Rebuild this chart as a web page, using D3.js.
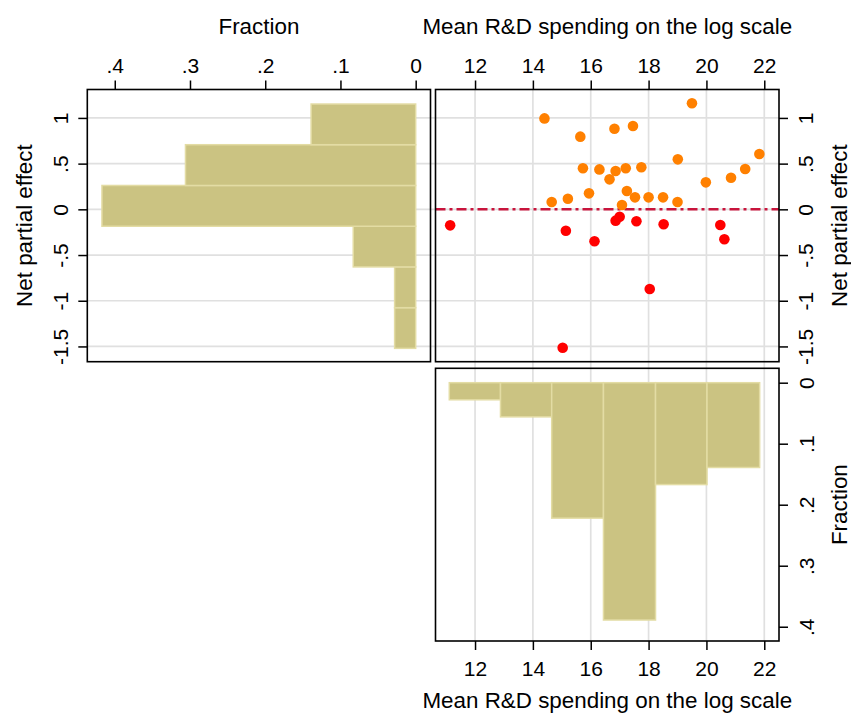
<!DOCTYPE html>
<html>
<head>
<meta charset="utf-8">
<script src="https://cdn.jsdelivr.net/npm/d3@7"></script>
<style>
    body { margin: 0; background: #fff; }
    svg { display: block; font-family: "Liberation Sans", Arial, Helvetica, sans-serif; }
</style>
</head>
<body>
<div id="chart"></div>
<script>
// DATA

// Mean R&D spending (log scale) for each observation
var rdSpending = [11.14, 15.14, 16.13, 16.86, 17.00, 17.58, 18.52, 20.48, 20.62, 18.04, 15.03,
    14.40, 19.50, 15.64, 16.82, 17.46, 15.73, 16.30, 16.65, 16.86, 17.21, 17.75, 19.01,
    21.83, 21.34, 20.85, 19.98, 15.94, 17.25, 17.53, 18.00, 18.50, 19.00, 14.65, 15.21, 17.08];
// Net partial effect for each observation
var netEffect = [-0.175, -0.234, -0.350, -0.124, -0.081, -0.131, -0.164, -0.172, -0.328, -0.872, -1.514,
    0.995, 1.160, 0.795, 0.882, 0.911, 0.449, 0.437, 0.328, 0.419, 0.449, 0.460, 0.547,
    0.605, 0.441, 0.346, 0.295, 0.175, 0.200, 0.131, 0.131, 0.131, 0.080, 0.080, 0.116, 0.047];

// Histogram of net partial effect (bin edges, fractions)
var effectBinEdges = [-1.521, -1.076, -0.630, -0.185, 0.261, 0.707, 1.152];
var effectFractions = [0.028, 0.028, 0.083, 0.417, 0.306, 0.139];

// Histogram of R&D spending (bin edges, fractions)
var rdBinEdges = [11.11, 12.88, 14.65, 16.44, 18.24, 20.02, 21.84];
var rdFractions = [0.028, 0.056, 0.222, 0.389, 0.167, 0.139];

// Tick values
var rdTicks = [12, 14, 16, 18, 20, 22];
var effectTicks = [-1.5, -1, -0.5, 0, 0.5, 1];
var fractionTicks = [0, 0.1, 0.2, 0.3, 0.4];

var xTitle = "Mean R&D spending on the log scale";
var yTitle = "Net partial effect";
var fracTitle = "Fraction";


// SETTINGS

var WIDTH = 851, HEIGHT = 713;
var FONT = '"Liberation Sans", Arial, Helvetica, sans-serif';
var BAR_FILL = "#cbc382";
var BAR_STROKE = "#e3dca4";
var GRID = "#e0e0e0";
var TICK_FONT = 21;
var TITLE_FONT = 22.4;

// Panel boxes [left, top, right, bottom]
var leftBox = [87.3, 89.5, 430.5, 361.7];
var mainBox = [435.5, 89.5, 779, 361.7];
var bottomBox = [435.5, 368.3, 779, 641];

var svg = d3.select("#chart").append("svg")
    .attr("width", WIDTH)
    .attr("height", HEIGHT);

svg.append("rect").attr("width", WIDTH).attr("height", HEIGHT).attr("fill", "#fff");

// Scales
var x = d3.scaleLinear().domain([10.633, 22.509]).range([mainBox[0], mainBox[2]]);
var y = d3.scaleLinear().domain([-1.667, 1.311]).range([mainBox[3], mainBox[1]]);
var fx = d3.scaleLinear().domain([0.4365, -0.0197]).range([leftBox[0], leftBox[2]]);
var fy = d3.scaleLinear().domain([-0.0236, 0.4234]).range([bottomBox[1], bottomBox[3]]);

// Stata-like number format: drop the leading zero, plain hyphen for minus
function fmt(d) {
    var s = String(+d.toFixed(2));
    return s.replace(/^0\./, ".").replace(/^-0\./, "-.");
}

// Rotate the tick labels of a vertical axis
function rotateLabels(g, offset) {
    g.selectAll(".tick text")
        .attr("x", 0).attr("y", 0)
        .attr("dy", "0.35em")
        .attr("text-anchor", "middle")
        .attr("transform", "translate(" + offset + ",0) rotate(-90)");
}

function styleAxis(g) {
    g.attr("font-family", FONT).attr("font-size", TICK_FONT);
    g.select(".domain").remove();
    g.selectAll(".tick line").attr("stroke", "#000").attr("stroke-width", 1.5);
    g.selectAll(".tick text").attr("fill", "#000");
}

function drawBox(b) {
    svg.append("rect")
        .attr("x", b[0]).attr("y", b[1])
        .attr("width", b[2] - b[0]).attr("height", b[3] - b[1])
        .attr("fill", "none")
        .attr("stroke", "#000")
        .attr("stroke-width", 1.6);
}



// GRIDLINES

// Horizontal grid across left histogram and scatter
svg.append("g").selectAll("line")
    .data(effectTicks)
    .enter().append("line")
        .attr("x1", leftBox[0]).attr("x2", mainBox[2])
        .attr("y1", function(d) { return y(d); })
        .attr("y2", function(d) { return y(d); })
        .attr("stroke", GRID).attr("stroke-width", 1.7);

// Vertical grid across scatter and bottom histogram
svg.append("g").selectAll("line")
    .data(rdTicks)
    .enter().append("line")
        .attr("y1", mainBox[1]).attr("y2", bottomBox[3])
        .attr("x1", function(d) { return x(d); })
        .attr("x2", function(d) { return x(d); })
        .attr("stroke", GRID).attr("stroke-width", 1.7);



// LEFT HISTOGRAM (horizontal bars)

svg.append("g").selectAll("rect")
    .data(effectFractions)
    .enter().append("rect")
        .attr("x", function(d) { return fx(d); })
        .attr("width", function(d) { return fx(0) - fx(d); })
        .attr("y", function(d, i) { return y(effectBinEdges[i + 1]); })
        .attr("height", function(d, i) { return y(effectBinEdges[i]) - y(effectBinEdges[i + 1]); })
        .attr("fill", BAR_FILL)
        .attr("stroke", BAR_STROKE)
        .attr("stroke-width", 1.5);



// BOTTOM HISTOGRAM (bars hanging down)

svg.append("g").selectAll("rect")
    .data(rdFractions)
    .enter().append("rect")
        .attr("x", function(d, i) { return x(rdBinEdges[i]); })
        .attr("width", function(d, i) { return x(rdBinEdges[i + 1]) - x(rdBinEdges[i]); })
        .attr("y", fy(0))
        .attr("height", function(d) { return fy(d) - fy(0); })
        .attr("fill", BAR_FILL)
        .attr("stroke", BAR_STROKE)
        .attr("stroke-width", 1.5);



// SCATTER

// Reference line at zero
svg.append("line")
    .attr("x1", mainBox[0]).attr("x2", mainBox[2])
    .attr("y1", y(0)).attr("y2", y(0))
    .attr("stroke", "#c8143c")
    .attr("stroke-width", 2.5)
    .attr("stroke-dasharray", "10,4,3,4");

svg.append("g").selectAll("circle")
    .data(rdSpending)
    .enter().append("circle")
        .attr("cx", function(d) { return x(d); })
        .attr("cy", function(d, i) { return y(netEffect[i]); })
        .attr("r", 5.3)
        .attr("fill", function(d, i) { return netEffect[i] < 0 ? "#ff0000" : "#ff8000"; });

drawBox(leftBox);
drawBox(mainBox);
drawBox(bottomBox);



// AXES

// Left histogram: fraction on top, effect on left
svg.append("g")
    .attr("transform", "translate(0," + leftBox[1] + ")")
    .call(d3.axisTop(fx).tickValues(fractionTicks).tickFormat(fmt).tickSize(9).tickPadding(8))
    .call(styleAxis);

svg.append("g")
    .attr("transform", "translate(" + leftBox[0] + ",0)")
    .call(d3.axisLeft(y).tickValues(effectTicks).tickFormat(fmt).tickSize(9))
    .call(styleAxis)
    .call(rotateLabels, -26.5);

// Scatter: R&D on top, effect on right
svg.append("g")
    .attr("transform", "translate(0," + mainBox[1] + ")")
    .call(d3.axisTop(x).tickValues(rdTicks).tickFormat(fmt).tickSize(9).tickPadding(8))
    .call(styleAxis);

svg.append("g")
    .attr("transform", "translate(" + mainBox[2] + ",0)")
    .call(d3.axisRight(y).tickValues(effectTicks).tickFormat(fmt).tickSize(9))
    .call(styleAxis)
    .call(rotateLabels, 27);

// Bottom histogram: R&D on bottom, fraction on right
svg.append("g")
    .attr("transform", "translate(0," + bottomBox[3] + ")")
    .call(d3.axisBottom(x).tickValues(rdTicks).tickFormat(fmt).tickSize(9).tickPadding(11))
    .call(styleAxis);

svg.append("g")
    .attr("transform", "translate(" + bottomBox[2] + ",0)")
    .call(d3.axisRight(fy).tickValues(fractionTicks).tickFormat(fmt).tickSize(9))
    .call(styleAxis)
    .call(rotateLabels, 28);



// TITLES

function title(text, tx, ty, rotate) {
    svg.append("text")
        .attr("transform", "translate(" + tx + "," + ty + ")" + (rotate ? " rotate(-90)" : ""))
        .attr("text-anchor", "middle")
        .attr("dy", "0.35em")
        .style("font-size", TITLE_FONT + "px")
        .attr("fill", "#000")
        .text(text);
}

title(fracTitle, (leftBox[0] + leftBox[2]) / 2, 26);
title(xTitle, (mainBox[0] + mainBox[2]) / 2, 26);
title(yTitle, 24, (leftBox[1] + leftBox[3]) / 2, true);
title(yTitle, 839, (mainBox[1] + mainBox[3]) / 2, true);
title(fracTitle, 839, (bottomBox[1] + bottomBox[3]) / 2, true);
title(xTitle, (bottomBox[0] + bottomBox[2]) / 2, 700);
</script>
</body>
</html>
